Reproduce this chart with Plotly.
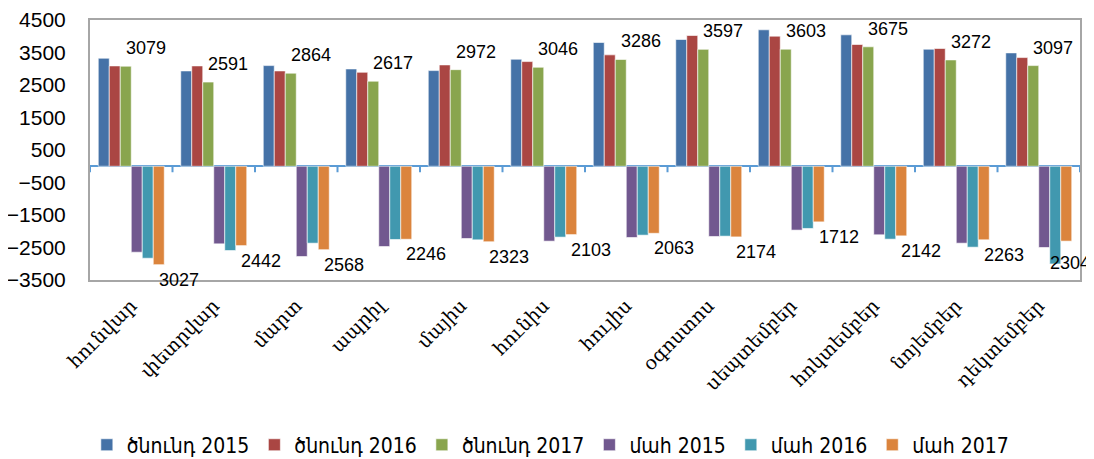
import plotly.graph_objects as go

months = ["հունվար", "փետրվար", "մարտ", "ապրիլ", "մայիս", "հունիս",
          "հուլիս", "օգոստոս", "սեպտեմբեր", "հոկտեմբեր", "նոյեմբեր", "դեկտեմբեր"]

births_2015 = [3324, 2933, 3097, 2994, 2943, 3293, 3807, 3900, 4198, 4044, 3602, 3488]
births_2016 = [3087, 3087, 2933, 2891, 3118, 3221, 3427, 4023, 4003, 3746, 3622, 3344]
births_2017 = [3079, 2591, 2864, 2617, 2972, 3046, 3286, 3597, 3603, 3675, 3272, 3097]
deaths_2015 = [2645, 2387, 2778, 2470, 2223, 2305, 2192, 2161, 1965, 2109, 2367, 2500]
deaths_2016 = [2830, 2593, 2367, 2253, 2264, 2181, 2120, 2151, 1914, 2243, 2490, 3005]
deaths_2017 = [3027, 2442, 2568, 2246, 2323, 2103, 2063, 2174, 1712, 2142, 2263, 2304]

series = [
    ("ծնունդ 2015", births_2015, 1, "#4572A7"),
    ("ծնունդ 2016", births_2016, 1, "#AA4643"),
    ("ծնունդ 2017", births_2017, 1, "#89A54E"),
    ("մահ 2015", deaths_2015, -1, "#71588F"),
    ("մահ 2016", deaths_2016, -1, "#4198AF"),
    ("մահ 2017", deaths_2017, -1, "#DB843D"),
]

fig = go.Figure()
for name, vals, sign, color in series:
    fig.add_trace(go.Bar(
        x=months, y=[sign * v for v in vals], name=name,
        marker=dict(color=color, line=dict(color="rgba(255,255,255,0.6)", width=1)),
    ))

n = len(series)
group_w = 0.8
bw = group_w / n
label_font = dict(family="Liberation Sans", size=18, color="black")
annotations = []
last = len(months) - 1
for i in range(len(months)):
    # births 2017 (3rd bar)
    annotations.append(dict(
        x=i + (2 - (n - 1) / 2) * bw, y=births_2017[i], xref="x", yref="y",
        text=str(births_2017[i]), showarrow=False, xshift=20, yshift=18,
        font=label_font))
    # deaths 2017 (6th bar); the last one is pulled in so it stays on the page
    annotations.append(dict(
        x=i + (5 - (n - 1) / 2) * bw, y=-deaths_2017[i], xref="x", yref="y",
        text=str(deaths_2017[i]), showarrow=False,
        xshift=20 if i < last else 4, yshift=-15 if i < last else -22,
        font=label_font))

shapes = []
for i in range(len(months) + 1):
    shapes.append(dict(
        type="line", xref="x", yref="y", x0=i - 0.5, x1=i - 0.5,
        ysizemode="pixel", yanchor=0, y0=0, y1=-6,
        line=dict(color="#5B9BD5", width=2)))

# page body has an 8px margin, so the figure is sized/offset to compensate
fig.update_layout(
    width=1086, height=451,
    margin=dict(l=82, r=14, t=12, b=179, autoexpand=False),
    plot_bgcolor="white", paper_bgcolor="white",
    barmode="group", bargap=0.2, bargroupgap=0,
    showlegend=True,
    legend=dict(orientation="h", x=0.465, xanchor="center", y=-0.635, yanchor="middle",
                font=dict(family="DejaVu Sans Condensed", size=21, color="black"),
                itemwidth=30),
    annotations=annotations,
    shapes=shapes,
    xaxis=dict(
        type="category", range=[-0.5, len(months) - 0.5],
        tickangle=-45, ticks="", showgrid=False, automargin=False,
        showline=True, linecolor="#A6A6A6", linewidth=2, mirror=True,
        tickfont=dict(family="DejaVu Serif", size=19, color="black"),
        ticklabelstandoff=5, ticklabeloverflow="allow",
    ),
    yaxis=dict(
        range=[-3500, 4500], tick0=-3500, dtick=1000,
        ticks="", showgrid=False, automargin=False,
        showline=True, linecolor="#A6A6A6", linewidth=2, mirror=True,
        zeroline=True, zerolinecolor="#5B9BD5", zerolinewidth=2,
        tickfont=dict(family="Liberation Sans", size=21, color="black"),
        ticklabelstandoff=18, ticklabeloverflow="allow",
    ),
)

fig.write_html("out.html")
